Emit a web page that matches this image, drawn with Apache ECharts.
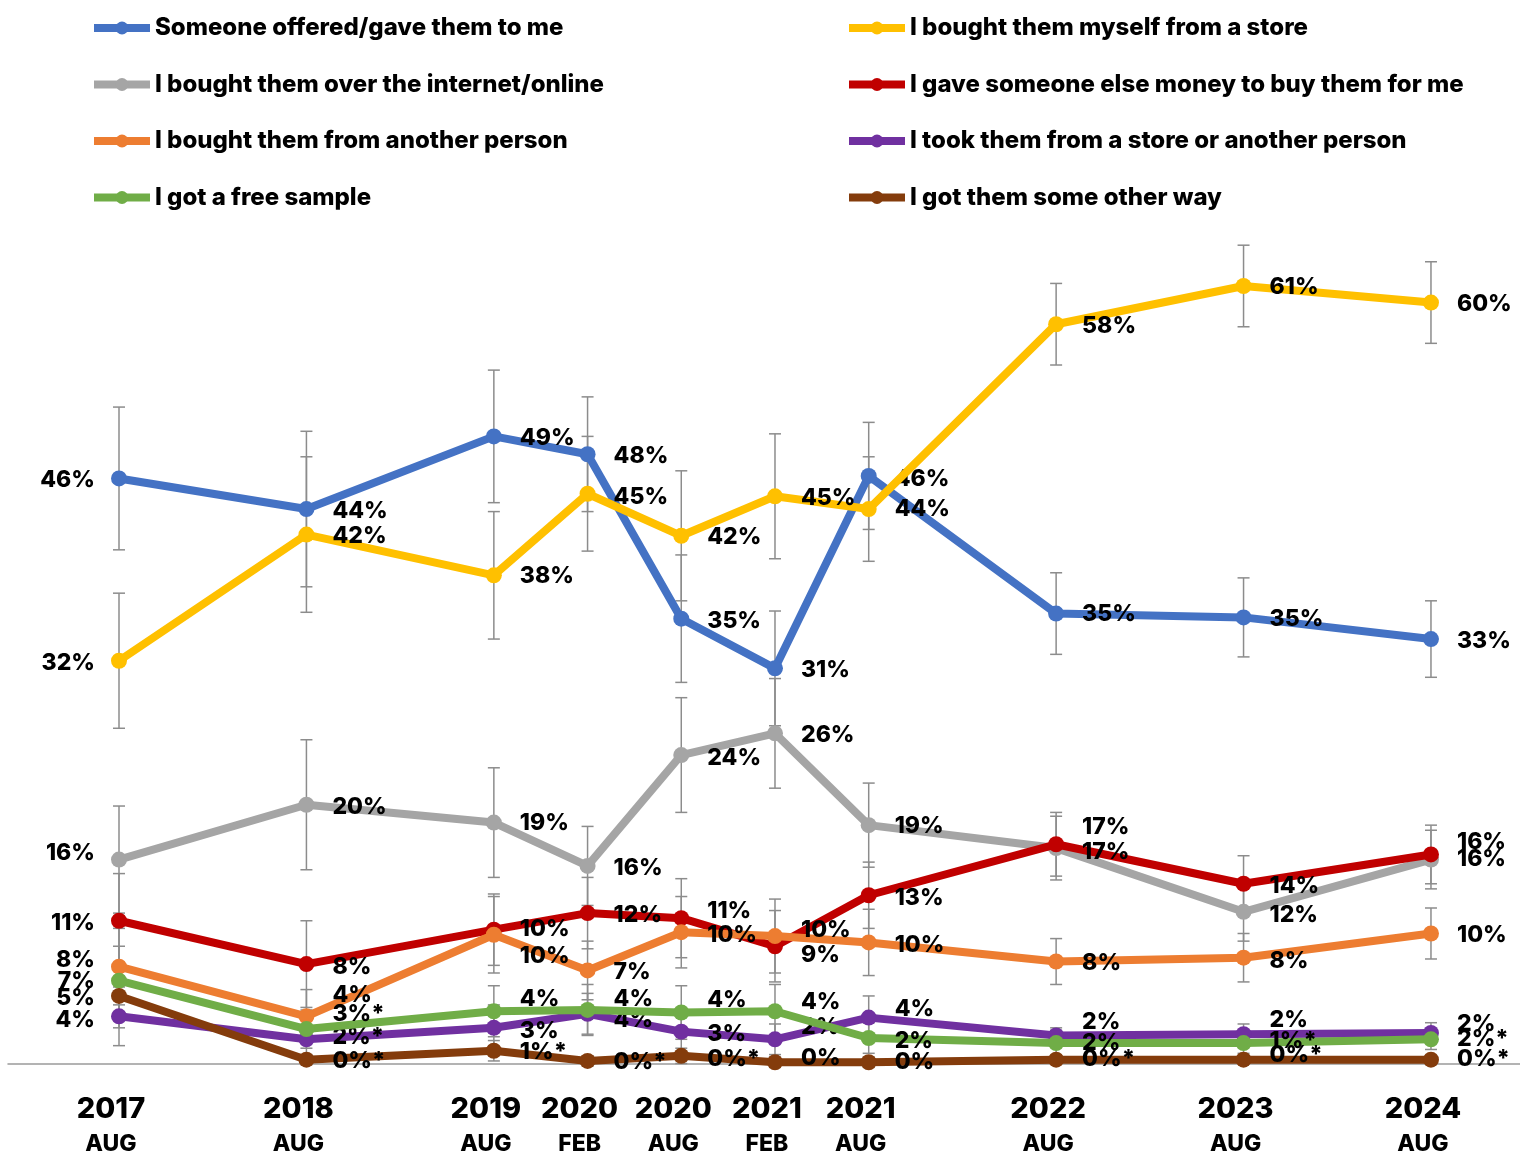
<!DOCTYPE html>
<html>
<head>
<meta charset="utf-8">
<script src="https://cdn.jsdelivr.net/npm/echarts@6/dist/echarts.min.js"></script>
<style>
html,body{margin:0;padding:0;background:#fff;}
#c{width:1520px;height:1156px;}
</style>
</head>
<body>
<div id="c"></div>
<script>
// Survey waves, months since Aug 2017
const periods = [0, 12, 24, 30, 36, 42, 48, 60, 72, 84];
const yearLabels = ['2017','2018','2019','2020','2020','2021','2021','2022','2023','2024'];
const monthLabels = ['AUG','AUG','AUG','FEB','AUG','FEB','AUG','AUG','AUG','AUG'];

const seriesNames = [
  'Someone offered/gave them to me',
  'I bought them myself from a store',
  'I bought them over the internet/online',
  'I gave someone else money to buy them for me',
  'I bought them from another person',
  'I took them from a store or another person',
  'I got a free sample',
  'I got them some other way'
];

const offeredVals  = [45.9, 43.5, 49.2, 47.8, 34.9, 31.0, 46.1, 35.3, 35.0, 33.3];
const storeVals    = [31.6, 41.5, 38.3, 44.7, 41.4, 44.5, 43.5, 58.0, 61.0, 59.7];
const onlineVals   = [16.0, 20.3, 18.9, 15.5, 24.2, 25.9, 18.7, 16.9, 11.9, 16.0];
const moneyVals    = [11.2, 7.8, 10.5, 11.8, 11.4, 9.2, 13.2, 17.2, 14.1, 16.4];
const personVals   = [7.6, 3.7, 10.1, 7.3, 10.3, 10.0, 9.5, 8.0, 8.3, 10.2];
const tookVals     = [3.7, 1.9, 2.8, 3.9, 2.5, 1.9, 3.6, 2.2, 2.3, 2.4];
const sampleVals   = [6.5, 2.7, 4.1, 4.2, 4.0, 4.1, 2.0, 1.6, 1.6, 1.9];
const otherVals    = [5.3, 0.3, 1.0, 0.2, 0.6, 0.1, 0.1, 0.3, 0.3, 0.3];

const offeredLabels = ['46%','44%','49%','48%','35%','31%','46%','35%','35%','33%'];
const storeLabels   = ['32%','42%','38%','45%','42%','45%','44%','58%','61%','60%'];
const onlineLabels  = ['16%','20%','19%','16%','24%','26%','19%','17%','12%','16%'];
const moneyLabels   = ['11%','8%','10%','12%','11%','9%','13%','17%','14%','16%'];
const personLabels  = ['8%','4%','10%','7%','10%','10%','10%','8%','8%','10%'];
const tookLabels    = ['4%','2%*','3%','4%','3%','2%','4%','2%','2%','2%'];
const sampleLabels  = ['7%','3%*','4%','4%','4%','4%','2%','2%','1%*','2%*'];
const otherLabels   = ['5%','0%*','1%*','0%*','0%*','0%','0%','0%*','0%*','0%*'];

// margins of error (percentage points)
const offeredErr = [5.6, 6.1, 5.2, 4.5, 5.0, 4.5, 4.2, 3.2, 3.1, 3.0];
const storeErr   = [5.3, 6.1, 5.0, 4.5, 5.1, 4.9, 4.1, 3.2, 3.2, 3.2];
const onlineErr  = [4.2, 5.1, 4.3, 3.1, 4.5, 4.3, 3.3, 2.5, 2.3, 2.3];
const moneyErr   = [3.7, 3.4, 2.8, 2.8, 3.1, 2.8, 2.6, 2.5, 2.2, 2.3];
const personErr  = [3.0, 2.1, 3.0, 2.3, 2.8, 2.9, 2.6, 1.8, 1.9, 2.0];
const tookErr    = [2.3, 1.5, 1.8, 1.6, 1.7, 1.2, 1.7, 0.6, 0.8, 0.8];
const sampleErr  = [2.7, 1.5, 2.0, 2.0, 2.1, 2.1, 1.2, 1.0, 0.8, 0.8];
const otherErr   = [2.5, 0.4, 0.8, 0.4, 0.6, 0.4, 0.4, 0.3, 0.3, 0.3];

// label vertical nudges (px), to avoid overlapping labels as in the original
const offeredDy = [2,2,2,2,2,2,3,1,2,2];
const storeDy   = [2,2,1,3,1,2,0,2,1,2];
const onlineDy  = [-6,2,0,2,3,2,1,-21,3,0];
const moneyDy   = [2,3,-1,2,-7,9,3,8,2,-12];
const personDy  = [-7,-21,21,2,3,-6,3,2,3,2];
const tookDy    = [4,-2,3,6,2,-12,-9,-13,-14,-9];
const sampleDy  = [0,-15,-12,-11,-12,-9,3,0,-2,0];
const otherDy   = [2,1,1,1,3,-4,0,-1,-5,-1];

const colors = ['#4472C4','#FFC000','#A5A5A5','#C00000','#ED7D31','#7030A0','#70AD47','#843C0C'];

const allVals = [offeredVals, storeVals, onlineVals, moneyVals, personVals, tookVals, sampleVals, otherVals];
const allLabels = [offeredLabels, storeLabels, onlineLabels, moneyLabels, personLabels, tookLabels, sampleLabels, otherLabels];
const allErr = [offeredErr, storeErr, onlineErr, moneyErr, personErr, tookErr, sampleErr, otherErr];
const allDy = [offeredDy, storeDy, onlineDy, moneyDy, personDy, tookDy, sampleDy, otherDy];

const FONT = 'Inter, "Open Sans", sans-serif';

const errData = [];
allVals.forEach((vals, s) => {
  vals.forEach((v, i) => {
    errData.push([periods[i], v - allErr[s][i], v + allErr[s][i]]);
  });
});

const series = [{
  type: 'custom',
  name: 'err',
  z: 1,
  silent: true,
  clip: false,
  encode: { x: 0, y: [1, 2] },
  data: errData,
  renderItem: function (params, api) {
    const x = api.value(0);
    const lo = api.coord([x, api.value(1)]);
    const hi = api.coord([x, api.value(2)]);
    const w = 6;
    const st = { stroke: '#8C8C8C', lineWidth: 1.5 };
    return {
      type: 'group',
      children: [
        { type: 'line', shape: { x1: lo[0], y1: lo[1], x2: hi[0], y2: hi[1] }, style: st },
        { type: 'line', shape: { x1: lo[0] - w, y1: lo[1], x2: lo[0] + w, y2: lo[1] }, style: st },
        { type: 'line', shape: { x1: hi[0] - w, y1: hi[1], x2: hi[0] + w, y2: hi[1] }, style: st }
      ]
    };
  }
}];

allVals.forEach((vals, s) => {
  series.push({
    type: 'line',
    name: seriesNames[s],
    z: 2 + s,
    clip: false,
    symbol: 'circle',
    symbolSize: 16,
    color: colors[s],
    lineStyle: { width: 8, color: colors[s] },
    itemStyle: { color: colors[s] },
    emphasis: { disabled: true },
    label: {
      show: true,
      color: '#000',
      fontFamily: FONT,
      fontWeight: 800,
      fontSize: 23,
      formatter: (p) => allLabels[s][p.dataIndex]
    },
    data: vals.map((v, i) => ({
      value: [periods[i], v],
      label: {
        position: i === 0 ? 'left' : 'right',
        distance: i === 0 ? 16 : 18,
        offset: [0, allDy[s][i]]
      }
    }))
  });
});

const legendBase = {
  orient: 'vertical',
  top: 16,
  padding: 0,
  itemWidth: 56,
  itemHeight: 16,
  itemGap: 32.5,
  selectedMode: false,
  lineStyle: { width: 8 },
  textStyle: { fontFamily: FONT, fontWeight: 800, fontSize: 24, color: '#000', lineHeight: 23 }
};

const option = {
  animation: false,
  backgroundColor: '#fff',
  legend: [
    Object.assign({}, legendBase, { left: 90, data: [seriesNames[0], seriesNames[2], seriesNames[4], seriesNames[6]] }),
    Object.assign({}, legendBase, { left: 845, data: [seriesNames[1], seriesNames[3], seriesNames[5], seriesNames[7]] })
  ],
  grid: { left: 8, right: 0, top: 235, bottom: 90 },
  xAxis: {
    type: 'value',
    min: -7.107,
    max: 89.7,
    splitLine: { show: false },
    axisTick: { show: false },
    axisLine: { show: true, lineStyle: { color: '#9A9A9A', width: 1.5 } },
    axisLabel: {
      show: true,
      customValues: periods,
      margin: 28,
      formatter: function (v) {
        const i = periods.indexOf(v);
        if (i < 0) return '';
        return '{y|' + yearLabels[i] + '}\n{m|' + monthLabels[i] + '}';
      },
      rich: {
        y: { fontFamily: FONT, fontWeight: 800, fontSize: 29, lineHeight: 36, color: '#000', padding: [0, 16, 0, 0] },
        m: { fontFamily: FONT, fontWeight: 800, fontSize: 23, lineHeight: 34, color: '#000', padding: [0, 16, 0, 0] }
      }
    }
  },
  yAxis: {
    type: 'value',
    min: 0,
    max: 65,
    show: false,
    splitLine: { show: false }
  },
  series: series
};

const chart = echarts.init(document.getElementById('c'), null, { renderer: 'canvas' });
chart.setOption(option);
</script>
</body>
</html>
